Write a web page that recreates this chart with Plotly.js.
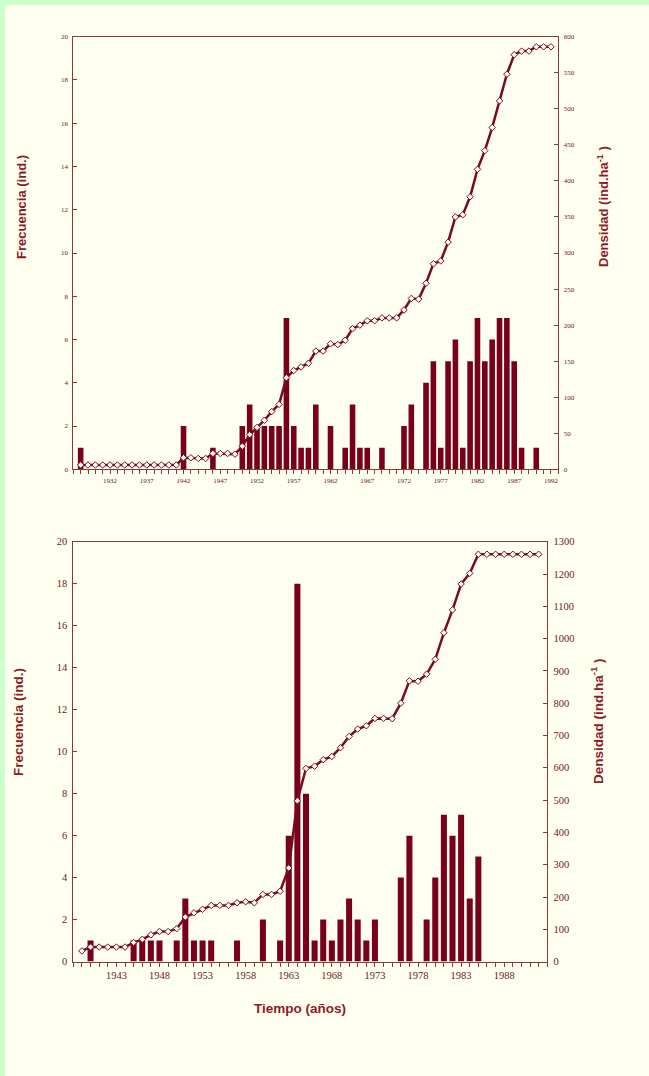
<!DOCTYPE html>
<html>
<head>
<meta charset="utf-8">
<script src="https://cdn.plot.ly/plotly-3.0.1.min.js"></script>
<style>
html,body{margin:0;padding:0;background:#ccffcc;}
#chart{width:649px;height:1076px;}
</style>
</head>
<body>
<div id="chart"></div>
<script>
// ---------- DATA: upper chart ----------
var yearsA = [1928,1929,1930,1931,1932,1933,1934,1935,1936,1937,1938,1939,1940,1941,1942,1943,1944,1945,1946,1947,1948,1949,
  1950,1951,1952,1953,1954,1955,1956,1957,1958,1959,1960,1961,1962,1963,1964,1965,1966,1967,1968,1969,
  1970,1971,1972,1973,1974,1975,1976,1977,1978,1979,1980,1981,1982,1983,1984,1985,1986,1987,1988,1989,1990,1991,1992];
var freqA = [1,0,0,0,0,0,0,0,0,0,0,0,0,0,2,0,0,0,1,0,0,0,
  2,3,2,2,2,2,7,2,1,1,3,0,2,0,1,3,1,1,0,1,
  0,0,2,3,0,4,5,1,5,6,1,5,7,5,6,7,7,5,1,0,1,0,0];
var densA = [6,6,6,6,6,6,6,6,6,6,6,6,6,6,16,16,15,15,22,22,22,21,
  32,48,58,68,80,90,127,137,142,147,164,164,174,173,179,195,200,206,206,210,
  210,210,221,237,236,258,285,289,315,350,353,378,416,442,474,511,548,575,580,580,586,586,586];
var tickYearsA = [1932,1937,1942,1947,1952,1957,1962,1967,1972,1977,1982,1987,1992];

// ---------- DATA: lower chart ----------
var yearsB = [1939,1940,1941,1942,1943,1944,1945,1946,1947,1948,1949,
  1950,1951,1952,1953,1954,1955,1956,1957,1958,1959,1960,1961,1962,1963,1964,1965,1966,1967,1968,1969,
  1970,1971,1972,1973,1974,1975,1976,1977,1978,1979,1980,1981,1982,1983,1984,1985,1986,1987,1988,1989,1990,1991,1992];
var freqB = [0,1,0,0,0,0,1,1,1,1,0,
  1,3,1,1,1,0,0,1,0,0,2,0,1,6,18,8,1,2,1,2,
  3,2,1,2,0,0,4,6,0,2,4,7,6,7,3,5,0,0,0,0,0,0,0];
var densB = [33,45,45,45,45,45,59,69,83,93,93,
  102,138,151,162,174,174,174,182,185,182,208,208,218,290,498,598,605,625,635,662,
  697,720,730,753,753,752,800,869,868,890,936,1018,1089,1169,1202,1261,1261,1261,1261,1261,1261,1261,1261];
var tickYearsB = [1943,1948,1953,1958,1963,1968,1973,1978,1983,1988];

var titleFreq = 'Frecuencia (ind.)';
var titleDens = 'Densidad (ind.ha<sup>-1</sup> )';
var titleTime = 'Tiempo (años)';

// ---------- STYLE ----------
var W = 649, H = 1076;
var BAR = '#780019';
var LINE = '#7a0a1e';
var AXC = '#8a3a3a';
var TXT = '#8a1c24';
var TICKC = '#6e2020';
function px(x){return x/W;}
function py(y){return 1 - y/H;}

var traces = [
  {type:'bar', x:yearsA, y:freqA, xaxis:'x', yaxis:'y', marker:{color:BAR}, width:0.76, hoverinfo:'none'},
  {type:'scatter', mode:'lines+markers', x:yearsA, y:densA, xaxis:'x', yaxis:'y2',
   line:{color:LINE, width:2.5}, marker:{symbol:'diamond', size:5, color:'#ffffff', line:{color:LINE, width:1}}, hoverinfo:'none'},
  {type:'bar', x:yearsB, y:freqB, xaxis:'x2', yaxis:'y3', marker:{color:BAR}, width:0.7, hoverinfo:'none'},
  {type:'scatter', mode:'lines+markers', x:yearsB, y:densB, xaxis:'x2', yaxis:'y4',
   line:{color:LINE, width:2.5}, marker:{symbol:'diamond', size:5, color:'#ffffff', line:{color:LINE, width:1}}, hoverinfo:'none'}
];

var tickFontA = {family:'Liberation Serif, serif', size:7, color:TICKC};
var tickFontB = {family:'Liberation Serif, serif', size:10.5, color:TICKC};

function xAx(dom, range, tv, font){
  return {domain:dom, range:range, showgrid:false, zeroline:false,
    showline:true, mirror:true, linecolor:AXC, linewidth:1,
    tickmode:'array', tickvals:tv, ticks:'outside', ticklen:4, tickcolor:AXC, tickfont:font,
    minor:{tickmode:'linear', tick0:range[0], dtick:1, ticks:'outside', ticklen:4, tickcolor:AXC},
    fixedrange:true};
}
function yAx(dom, range, dtick, side, font, anchor, overlay){
  var a = {domain:dom, range:range, dtick:dtick, tick0:0, tickmode:'linear', side:side,
    showgrid:false, zeroline:false, showline:true, linecolor:AXC, linewidth:1,
    ticks:'inside', ticklen:4, tickcolor:AXC, tickfont:font, anchor:anchor, fixedrange:true,
    ticklabelstandoff:3};
  if (overlay) a.overlaying = overlay;
  return a;
}

var domXA = [px(73.3), px(558.3)], domYA = [py(469.3), py(36.7)];
var domXB = [px(73.3), px(547.3)], domYB = [py(961.6), py(541.7)];

var layout = {
  width:W, height:H, margin:{l:0,r:0,t:0,b:0},
  paper_bgcolor:'#ccffcc', plot_bgcolor:'rgba(0,0,0,0)',
  showlegend:false, barmode:'overlay',
  xaxis: Object.assign(xAx(domXA, [1927,1993], tickYearsA, tickFontA), {anchor:'y'}),
  yaxis: yAx(domYA, [0,20], 2, 'left', tickFontA, 'x'),
  yaxis2: yAx(domYA, [0,600], 50, 'right', tickFontA, 'x', 'y'),
  xaxis2: Object.assign(xAx(domXB, [1938,1993], tickYearsB, tickFontB), {anchor:'y3'}),
  yaxis3: yAx(domYB, [0,20], 2, 'left', tickFontB, 'x2'),
  yaxis4: yAx(domYB, [0,1300], 100, 'right', tickFontB, 'x2', 'y3'),
  shapes:[
    {type:'rect', xref:'paper', yref:'paper', x0:px(5), x1:1, y0:0, y1:py(5),
     fillcolor:'#fffff0', line:{width:0}, layer:'below'}
  ],
  annotations:[
    {text:titleFreq, xref:'paper', yref:'paper', x:px(22), y:py(207), textangle:-90, showarrow:false,
     xanchor:'center', yanchor:'middle', font:{family:'Liberation Sans, Arial, sans-serif', size:13, color:TXT, weight:'bold'}},
    {text:titleDens, xref:'paper', yref:'paper', x:px(603), y:py(207), textangle:-90, showarrow:false,
     xanchor:'center', yanchor:'middle', font:{family:'Liberation Sans, Arial, sans-serif', size:13, color:TXT, weight:'bold'}},
    {text:titleFreq, xref:'paper', yref:'paper', x:px(18), y:py(722), textangle:-90, showarrow:false,
     xanchor:'center', yanchor:'middle', font:{family:'Liberation Sans, Arial, sans-serif', size:13.5, color:TXT, weight:'bold'}},
    {text:titleDens, xref:'paper', yref:'paper', x:px(597), y:py(722), textangle:-90, showarrow:false,
     xanchor:'center', yanchor:'middle', font:{family:'Liberation Sans, Arial, sans-serif', size:13.5, color:TXT, weight:'bold'}},
    {text:titleTime, xref:'paper', yref:'paper', x:px(300), y:py(1008), showarrow:false,
     xanchor:'center', yanchor:'middle', font:{family:'Liberation Sans, Arial, sans-serif', size:13.5, color:TXT, weight:'bold'}}
  ]
};

Plotly.newPlot('chart', traces, layout, {staticPlot:true, displayModeBar:false});
</script>
</body>
</html>
